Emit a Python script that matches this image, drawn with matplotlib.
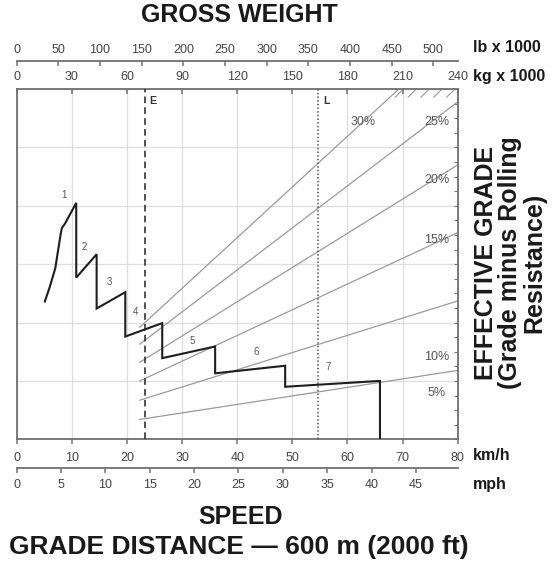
import matplotlib
matplotlib.use("Agg")
import matplotlib.pyplot as plt
from matplotlib.ticker import MultipleLocator

plt.rcParams['font.family'] = ['Liberation Sans', 'DejaVu Sans']

# ---------------- data ----------------
kmh_ticks = [0, 10, 20, 30, 40, 50, 60, 70, 80]
mph_ticks = [0, 5, 10, 15, 20, 25, 30, 35, 40, 45]
kg_ticks = [0, 30, 60, 90, 120, 150, 180, 210, 240]
lb_ticks = [0, 50, 100, 150, 200, 250, 300, 350, 400, 450, 500]

# retarder step curve (speed km/h, force kN)
curve_kmh = [5.1, 6.0, 7.0, 8.0, 8.2, 8.8, 10.8, 10.8, 14.5, 14.5, 19.7, 19.7,
             26.4, 26.4, 36.0, 36.0, 48.7, 48.7, 65.9, 65.9]
curve_kn = [236, 261, 293, 353, 362, 370, 405, 277, 317, 224, 252, 176,
            199, 139, 159, 113, 126, 90, 100, 0]

gear_names = ['1', '2', '3', '4', '5', '6', '7']
gear_label_kmh = [8.6, 12.3, 16.8, 21.6, 31.9, 43.4, 56.5]
gear_label_kn = [418, 330, 269, 218, 168, 149, 123]

# effective grade lines (weight t, force kN)
grade_names = ['5%', '10%', '15%', '20%', '25%', '30%']
grade_start_w = [67, 67, 67, 67, 67, 67]
grade_start_kn = [34, 67, 100, 132, 163, 192]
grade_end_w = [240, 240, 240, 240, 240, 208]
grade_end_kn = [118, 237, 354, 470, 578, 600]
grade_label_w = [228.5, 228.5, 228.5, 228.5, 228.5, 188.5]
grade_label_kn = [80, 141, 341, 444, 544, 544]

# overflow marks at top right (weight t)
overflow_w = [206, 213, 220, 227, 234]

empty_w = 70
loaded_w = 164

# ---------------- layout ----------------
W, H = 558, 566
fig = plt.figure(figsize=(W / 100, H / 100), dpi=100)


def fx(px):
    return px / W


def fy(py):
    return 1 - py / H


L_px, R_px, T_px, B_px = 16.7, 457.7, 89.0, 439.3
spine_c = '#707070'
tick_c = '#444444'
ax = fig.add_axes([fx(L_px), fy(B_px), (R_px - L_px) / W, (B_px - T_px) / H])
ax.set_xlim(0, 80)
ax.set_ylim(0, 600)
for s in ax.spines.values():
    s.set_color(spine_c)
    s.set_linewidth(1.3)

ax.set_xticks(kmh_ticks)
ax.set_yticks(range(0, 601, 100))
ax.yaxis.set_minor_locator(MultipleLocator(25))
ax.tick_params(axis='x', direction='out', length=3.6, width=1.1, color=spine_c,
               labelsize=9, labelcolor=tick_c, pad=5.5)
ax.tick_params(axis='y', which='both', left=False, right=True, direction='in',
               length=3, width=0.8, color=spine_c, labelleft=False)
ax.grid(True, which='major', color='#dedede', lw=0.9)
ax.set_axisbelow(True)

# kg axis (top of box)
axk = ax.twiny()
axk.set_xlim(0, 240)
axk.set_xticks(kg_ticks)
axk.tick_params(axis='x', direction='in', length=3.6, width=1.1, color=spine_c,
                labelsize=9, labelcolor=tick_c, pad=4.2)
for s in axk.spines.values():
    s.set_visible(False)

# lb axis line
axlb = fig.add_axes([fx(L_px), fy(61.7), (R_px - L_px) / W, 0.0005])
axlb.set_xlim(0, 240 * 2.20462)
axlb.set_xticks(lb_ticks)
axlb.set_yticks([])
axlb.patch.set_visible(False)
for k, s in axlb.spines.items():
    s.set_visible(k == 'top')
axlb.spines['top'].set_color(spine_c)
axlb.spines['top'].set_linewidth(1.3)
axlb.xaxis.set_ticks_position('top')
axlb.tick_params(axis='x', direction='in', length=3.6, width=1.1, color=spine_c,
                 labelsize=9, labelcolor=tick_c, pad=4, labeltop=True, labelbottom=False)

# mph axis line
axm = fig.add_axes([fx(L_px), fy(467.7), (R_px - L_px) / W, 0.0005])
axm.set_xlim(0, 80 / 1.609344)
axm.set_xticks(mph_ticks)
axm.set_yticks([])
axm.patch.set_visible(False)
for k, s in axm.spines.items():
    s.set_visible(k == 'bottom')
axm.spines['bottom'].set_color(spine_c)
axm.spines['bottom'].set_linewidth(1.3)
axm.tick_params(axis='x', direction='out', length=3.6, width=1.1, color=spine_c,
                labelsize=9, labelcolor=tick_c, pad=4.8)

# grade lines (drawn in weight coordinates)
grey = '#9a9a9a'
for i in range(len(grade_names)):
    ax.plot([grade_start_w[i], grade_end_w[i]], [grade_start_kn[i], grade_end_kn[i]],
            color=grey, lw=0.9, transform=axk.transData, zorder=2)
    ax.text(grade_label_w[i], grade_label_kn[i], grade_names[i], transform=axk.transData,
            ha='center', va='center', fontsize=9, color='#555555', zorder=3)
for w in overflow_w:
    ax.plot([w, w + 4.5], [586, 600], color=grey, lw=0.8,
            transform=axk.transData, zorder=2)

# E / L lines
ax.plot([empty_w, empty_w], [0, 600], transform=axk.transData, color='#333333',
        lw=1.2, ls=(0, (4, 2.5)), zorder=3)
ax.plot([loaded_w, loaded_w], [0, 600], transform=axk.transData, color='#555555',
        lw=1.1, ls=(0, (1, 1.4)), zorder=3)
ax.annotate('E', xy=(empty_w, 600), xycoords=axk.transData, xytext=(2.5, -5),
            textcoords='offset points', ha='left', va='top', fontsize=7.5,
            fontweight='bold', color='#333333')
ax.annotate('L', xy=(loaded_w, 600), xycoords=axk.transData, xytext=(3.5, -5),
            textcoords='offset points', ha='left', va='top', fontsize=7.5,
            fontweight='bold', color='#333333')

# retarder curve
ax.plot(curve_kmh, curve_kn, color='#1e1e1e', lw=1.5, zorder=4,
        solid_joinstyle='miter')
for name, x, y in zip(gear_names, gear_label_kmh, gear_label_kn):
    ax.text(x, y, name, ha='center', va='center', fontsize=7, color='#555555', zorder=5)

# unit labels
unit_kw = dict(fontsize=11.5, fontweight='bold', color='#1a1a1a', ha='left', va='center')
fig.text(fx(473), fy(48), 'lb x 1000', **unit_kw)
fig.text(fx(473), fy(76), 'kg x 1000', **unit_kw)
fig.text(fx(473), fy(456), 'km/h', **unit_kw)
fig.text(fx(473), fy(484), 'mph', **unit_kw)

# titles
fig.text(fx(239), fy(15), 'GROSS WEIGHT', fontsize=18, fontweight='bold',
         color='#1a1a1a', ha='center', va='center')
fig.text(fx(241), fy(517), 'SPEED', fontsize=18, fontweight='bold',
         color='#1a1a1a', ha='center', va='center')
fig.text(fx(239), fy(547), 'GRADE DISTANCE \u2014 600 m (2000 ft)', fontsize=19,
         fontweight='bold', color='#1a1a1a', ha='center', va='center')
fig.text(fx(510), fy(263), 'EFFECTIVE GRADE\n(Grade minus Rolling\nResistance)',
         fontsize=18, fontweight='bold', color='#1a1a1a', ha='center', va='center',
         rotation=90, multialignment='center', linespacing=1.0)

fig.savefig('out.png', dpi=100)
